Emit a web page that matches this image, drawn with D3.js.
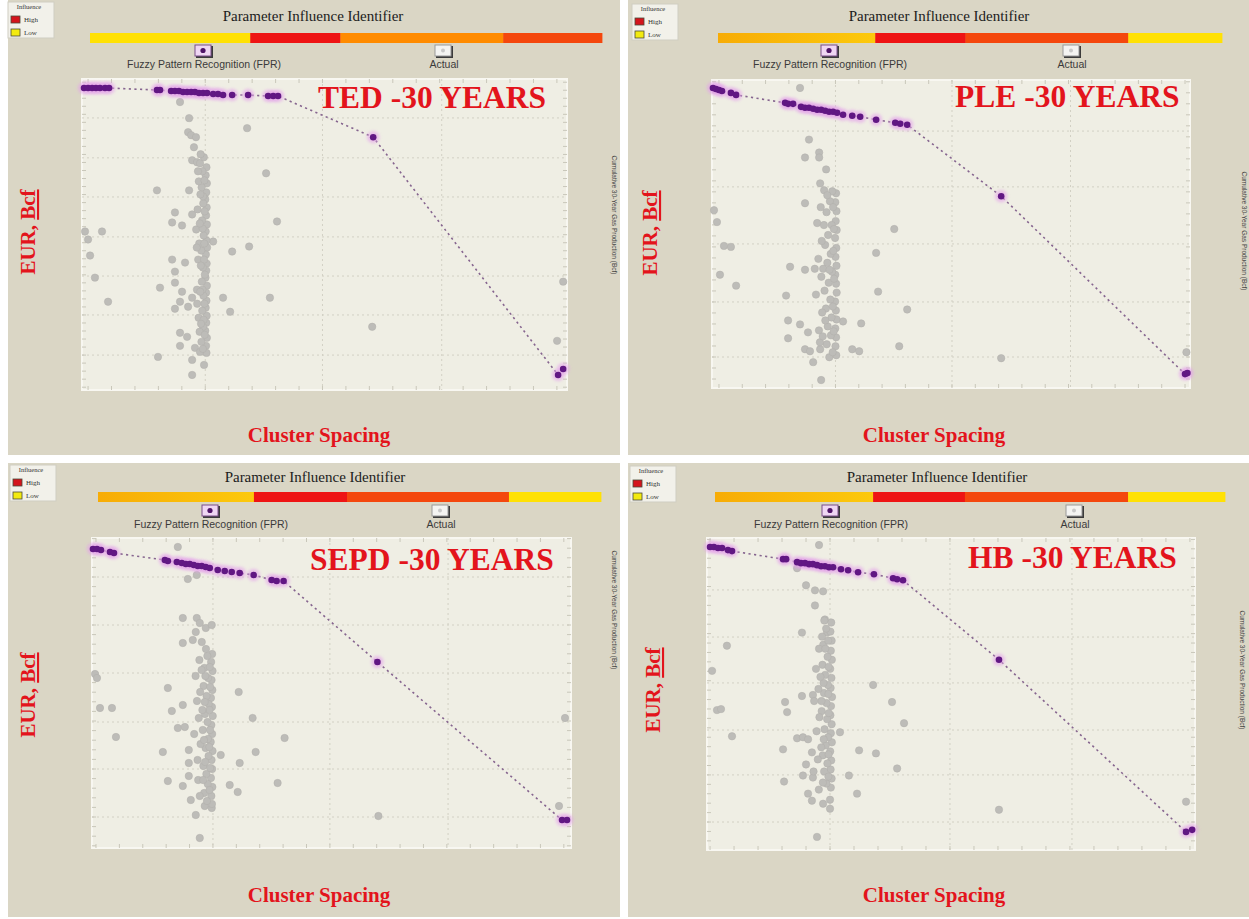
<!DOCTYPE html>
<html>
<head>
<meta charset="utf-8">
<script src="https://cdn.jsdelivr.net/npm/d3@7"></script>
<style>
  body { margin: 0; background: #ffffff; }
  svg { display: block; }
</style>
</head>
<body>
<svg id="chart" width="1249" height="919"></svg>
<script>
// ---------------------------------------------------------------
// Shared axes: cluster spacing (ft) vs. 30-year EUR (Bcf)
// ---------------------------------------------------------------
const xDomain = [0, 240];
const yDomain = [0, 15.5];

const panelTitles = ["TED -30 YEARS", "PLE -30 YEARS", "SEPD -30 YEARS", "HB -30 YEARS"];
const headerText = "Parameter Influence Identifier";
const fprLabel = "Fuzzy Pattern Recognition (FPR)";
const actualLabel = "Actual";
const xLabel = "Cluster Spacing";
const yLabelMain = "EUR, ";
const yLabelUnit = "Bcf";
const sideLabel = "Cumulative 30-Year Gas Production (Bcf)";
const legendTitle = "Influence";
const legendItems = [["High", 5], ["Low", 1]];

// influence bar: [level, share of bar in %]; level 1 = low ... 5 = high
const tedInfluence  = [[1, 31.3], [5, 17.6], [3, 31.8], [4, 19.3]];
const pleInfluence  = [[2, 31.2], [5, 17.9], [4, 32.3], [1, 18.6]];
const sepdInfluence = [[2, 31.0], [5, 18.5], [4, 32.2], [1, 18.3]];
const hbInfluence   = [[2, 31.0], [5, 18.0], [4, 32.0], [1, 19.0]];

// grid line positions (data units)
const tedGridX  = [61, 119, 178];
const tedGridY  = [1.74, 3.74, 5.68, 7.63, 9.62, 11.57, 13.56];
const pleGridX  = [62, 120.5, 180];
const pleGridY  = [1.56, 4.33, 7.25, 10.12, 12.93];
const sepdGridX = [60.6, 119.2, 178.4];
const sepdGridY = [1.55, 3.95, 6.3, 8.75, 11.15, 13.55];
const hbGridX   = [60.5, 119.5, 179.5];
const hbGridY   = [1.39, 3.73, 5.96, 8.3, 10.58, 12.92];

// ---------------- TED ----------------
const tedFPR = [
  [1.0,15.05],[3.0,15.05],[5.0,15.05],[6.9,15.05],[8.9,15.05],[11.4,15.05],[13.4,15.05],
  [37.1,14.95],[38.6,14.95],[44.1,14.9],[46.0,14.9],[48.0,14.9],[50.0,14.85],[52.0,14.85],
  [54.0,14.85],[55.9,14.85],[57.9,14.8],[59.9,14.8],[61.9,14.8],[64.9,14.75],[67.3,14.75],
  [69.8,14.7],[74.3,14.7],[82.2,14.7],[92.1,14.65],[94.6,14.65],[97.0,14.65],
  [144.1,12.6],[235.6,0.75],[238.1,1.05]
];
const tedActual = [
  [48.5,14.35],[53,13.55],[81.7,13.05],[52.5,12.85],[54,12.7],[56.4,12.6],[55.4,12.1],[54.5,11.45],
  [56.9,11.35],[58.4,11.3],[37.1,9.95],[53,9.95],[91.1,10.8],[60.4,9.7],[96.5,8.4],[46,8.85],
  [44.6,8.35],[54.5,8.75],[1.5,7.9],[9.9,7.9],[3,7.5],[4,6.7],[6.4,5.6],[12.9,4.4],
  [49.5,8.2],[64.9,7.4],[74.3,6.9],[82.7,7.15],[44.6,6.5],[51,6.35],[46,5.9],[46,5.35],
  [38.6,5.1],[49.5,4.9],[48.5,4.4],[46,4.05],[69.8,4.6],[93,4.6],[73.3,3.9],[54.5,4.6],
  [52.5,4.15],[48.5,2.85],[52,2.65],[48.5,2.2],[55.9,2.1],[37.6,1.65],[54.5,1.5],[60.4,1.25],
  [54.5,0.75],[143.6,3.15],[238.1,5.4],[235.1,2.45],
  [61.6,11.1],[61.2,10.7],[61.8,10.3],[61.5,9.85],[61.0,9.5],[61.7,9.1],[61.4,8.7],[61.8,8.25],
  [61.2,7.9],[61.6,7.45],[61.9,7.1],[61.3,6.75],[61.7,6.3],[61.5,5.95],[61.1,5.6],[61.8,5.2],
  [61.4,4.85],[61.6,4.45],[61.2,4.1],[61.7,3.7],[61.5,3.35],[61.0,2.95],[61.8,2.6],[61.4,2.2],
  [61.6,1.85],[59.6,10.9],[59.2,10.1],[60.0,9.3],[59.4,8.45],[60.2,7.7],[59.0,6.95],[59.8,6.1],
  [59.3,5.4],[60.1,4.7],[59.5,3.95],[59.9,3.15],[59.1,2.4],[60.3,11.6],[57.8,10.4],[57.2,9.0],
  [58.0,7.3],[57.5,6.5],[56.9,5.0],[57.7,3.6],[58.2,2.9],[56.5,8.0],[57.0,4.3],[58.4,1.9],
  [60.6,10.45],[59.9,9.65],[60.7,8.9],[59.7,8.05],[60.5,7.3],[60.4,6.5],[60.8,5.75],[59.6,5.0],
  [60.6,4.3],[60.2,3.5],[60.7,2.75],[59.8,2.05],[58.6,9.75],[58.3,8.3],[58.8,6.2],[58.5,4.9],
  [58.9,3.3],[57.4,10.9],[58.7,11.75],[56.8,7.1]
];

// ---------------- PLE ----------------
const pleFPR = [
  [0.5,15.1],[2,15.05],[3.5,15.0],[5,14.95],[9.5,14.85],[12.1,14.75],
  [36.7,14.35],[38.2,14.3],[40.7,14.3],[44.7,14.15],[46.7,14.1],[48.7,14.1],[50.8,14.05],
  [52.8,14.0],[54.8,14.0],[56.8,13.95],[58.8,13.9],[60.8,13.9],[62.8,13.85],[65.8,13.75],
  [70.4,13.7],[74.4,13.65],[82.4,13.5],[92,13.35],[94.5,13.3],[98,13.25],
  [145.2,9.65],[237.5,0.7],[238.7,0.75]
];
const pleActual = [
  [44.2,15.1],[48.7,12.5],[46.7,11.6],[53.8,11.85],[53.8,11.6],[57.3,11.0],[54.3,10.3],[56.3,9.95],
  [46.7,9.3],[1,8.95],[2.5,8.35],[6,7.15],[9.5,7.1],[4,5.7],[12.1,5.15],[39.2,6.1],[46.7,5.95],
  [37.2,4.65],[38.2,3.4],[44.2,3.2],[38.2,2.5],[48.2,2.8],[46.7,1.95],[49.2,1.85],[54.3,1.95],
  [91.5,8.0],[82.4,6.8],[83.4,4.85],[98,3.95],[65.8,3.35],[74.9,3.25],[70.4,1.95],[73.9,1.85],
  [94,2.1],[54.8,0.4],[50.8,1.3],[145.2,1.5],[238.2,1.8],
  [62.3,9.8],[61.9,9.35],[62.5,8.9],[62.1,8.4],[62.6,7.95],[61.8,7.55],[62.4,7.05],[62.0,6.6],
  [62.5,6.15],[61.9,5.7],[62.3,5.25],[62.6,4.8],[61.8,4.35],[62.2,3.9],[62.5,3.45],[61.9,3.0],
  [62.3,2.55],[62.0,2.1],[62.4,1.65],[59.2,9.4],[57.5,8.85],[60.1,8.2],[58.3,7.7],[56.8,7.2],
  [59.6,6.75],[57.9,6.3],[60.3,5.85],[58.6,5.3],[56.5,4.9],[59.4,4.45],[57.2,4.0],[60.0,3.55],
  [58.1,3.1],[59.7,2.65],[57.6,2.2],[58.9,1.55],[60.4,9.9],[54.6,9.1],[52.8,8.3],[55.1,7.4],
  [53.4,6.5],[54.9,5.6],[52.2,4.7],[55.3,3.8],[53.7,2.9],[54.2,2.3],[51.6,6.0],
  [60.8,9.1],[61.2,8.0],[60.9,6.9],[61.3,5.5],[60.7,4.1],[61.1,2.85],[60.6,1.8],[56.2,8.2],
  [55.8,6.0],[56.9,3.4],[55.6,2.6],[57.9,9.7],[59.0,5.95]
];

// ---------------- SEPD ----------------
const sepdFPR = [
  [0.5,14.95],[2.5,14.95],[4.5,14.9],[9,14.8],[11,14.75],
  [36.5,14.4],[38,14.35],[42.5,14.3],[45,14.25],[47,14.2],[49,14.2],[51,14.15],[53,14.1],
  [55,14.1],[57,14.05],[59,14.0],[63,13.9],[66.5,13.85],[70,13.8],[74,13.75],[81,13.65],
  [90,13.4],[92.5,13.35],[96,13.35],[143,9.3],[235.5,1.4],[238,1.4]
];
const sepdActual = [
  [43,15.05],[48,13.45],[52.5,13.65],[45.5,11.5],[52.5,11.5],[54,11.25],[57,11.0],[60,11.15],
  [52,10.8],[45.5,10.25],[50.5,10.4],[55,10.3],[38,8.0],[40,6.85],[45.5,7.15],[1.5,8.7],
  [2.5,8.5],[4,7.0],[10,7.0],[12,5.55],[43,6.0],[46.5,6.05],[35.5,4.8],[48.5,4.9],[64.5,4.65],
  [48.5,4.25],[48.5,3.6],[38,3.35],[45.5,3.1],[49.5,2.4],[52,1.65],[54,0.5],[56.5,2.1],[60,2.0],
  [73.5,7.8],[80.5,6.5],[82,4.8],[74,4.25],[69,3.15],[73,2.8],[93,3.25],[96.5,5.5],[143.5,1.6],
  [237,6.5],[234,2.1],
  [60.2,9.7],[59.7,9.3],[60.4,8.85],[59.9,8.4],[60.3,7.9],[59.6,7.5],[60.1,7.05],[60.5,6.6],
  [59.8,6.15],[60.2,5.7],[59.5,5.3],[60.4,4.85],[59.9,4.4],[60.2,3.95],[59.6,3.5],[60.3,3.05],
  [59.8,2.6],[60.1,2.2],[57.8,9.6],[56.3,9.0],[58.2,8.5],[55.9,8.1],[57.4,7.6],[58.5,7.2],
  [56.6,6.7],[57.9,6.3],[55.5,5.9],[58.1,5.45],[56.9,5.0],[58.4,4.6],[55.8,4.1],[57.3,3.7],
  [58.0,3.2],[56.2,2.75],[57.6,2.35],[53.8,9.4],[51.9,8.6],[54.2,7.8],[52.6,7.35],[53.5,6.5],
  [51.2,5.7],[54.4,5.2],[52.9,4.4],[53.2,3.4],[54.0,2.6],
  [59.0,9.05],[59.2,8.05],[58.9,6.9],[59.1,5.9],[58.8,5.05],[59.2,4.0],[58.9,2.9],[56.8,8.6],
  [56.5,7.3],[56.1,5.4],[56.7,4.3],[55.3,6.9],[55.7,3.4],[57.1,9.95],[54.9,8.9]
];

// ---------------- HB ----------------
const hbFPR = [
  [1.5,15.05],[3.4,15.05],[5.4,15.0],[7.4,15.0],[10.3,14.9],[12.3,14.85],
  [37.4,14.45],[38.9,14.45],[44.3,14.3],[46.2,14.25],[48.2,14.25],[50.2,14.2],[52.1,14.2],
  [54.1,14.15],[56.1,14.1],[58,14.1],[60,14.05],[62,14.05],[65.9,13.95],[69.4,13.9],
  [74.3,13.8],[82.1,13.7],[91.5,13.5],[93.5,13.45],[96.4,13.4],[143.6,9.45],
  [235.6,0.9],[238.6,1.0]
];
const hbActual = [
  [55.1,15.15],[44.3,14.0],[48.7,13.15],[53.1,12.9],[57.1,12.85],[53.1,12.15],[58,11.45],
  [46.7,10.8],[59,10.8],[9.8,10.15],[2.5,8.9],[4.9,6.95],[6.9,7.0],[12.3,5.65],[38.4,7.35],
  [39.4,6.85],[46.7,7.65],[52.1,7.7],[81.7,8.2],[91,7.35],[96.9,6.3],[65.4,5.85],[44.3,5.55],
  [47.2,5.6],[49.7,5.5],[37.4,5.0],[51.6,4.85],[74.8,4.95],[83.1,4.8],[48.7,4.25],[93.5,4.05],
  [69.8,3.7],[37.9,3.4],[47.2,3.7],[52.1,3.6],[49.7,2.8],[51.6,2.45],[57.1,2.3],[60.5,2.5],
  [60.5,2.05],[54.1,0.65],[73.8,2.8],[143.6,2.0],[235.6,2.4],
  [61.1,11.3],[60.7,10.85],[61.3,10.4],[60.9,9.9],[61.4,9.45],[60.6,9.0],[61.2,8.55],[60.8,8.05],
  [61.5,7.6],[61.0,7.15],[60.7,6.7],[61.3,6.25],[60.9,5.8],[61.4,5.35],[60.6,4.9],[61.1,4.45],
  [60.8,4.0],[61.3,3.55],[60.9,3.1],[58.6,11.0],[57.2,10.2],[59.3,9.6],[56.8,9.2],[58.1,8.7],
  [59.5,8.2],[57.5,7.8],[58.8,7.3],[56.4,6.9],[59.1,6.5],[57.8,6.0],[58.4,5.2],[56.9,4.7],
  [59.2,4.3],[57.6,3.9],[58.7,3.3],[56.6,10.6],[55.1,10.0],[53.6,9.0],[54.8,8.0],[52.7,7.4],
  [55.3,6.6],[53.9,5.9],[54.5,4.5],[52.4,3.9],[55.0,3.0],
  [59.6,10.4],[59.8,9.1],[59.7,7.75],[59.9,6.8],[59.6,5.6],[59.8,4.75],[59.7,3.65],[57.3,8.3],
  [56.3,7.4],[57.4,5.5],[56.2,5.1],[57.0,3.35],[55.8,8.6],[58.2,10.0],[57.7,11.4]
];

// ---------------------------------------------------------------
// Styling and page layout
// ---------------------------------------------------------------
const levelColors = { 1: "#ffe104", 2: "url(#lvl2)", 3: "#ff8b00", 4: "#f4470d", 5: "#ee1414" };
const legendColors = { 1: "#f2ea10", 5: "#d4141c" };
const RED = "#e3141c";

const panels = [
  { title: panelTitles[0], influence: tedInfluence, gridX: tedGridX, gridY: tedGridY, fpr: tedFPR, actual: tedActual,
    L: { panel: [8, 0, 612, 455], plot: [82, 567, 79, 390], bar: [90, 602, 33], header: [313, 21], legend: [8, 2],
         fprIcon: [204, 52], actIcon: [444, 52], eur: [30, 232], cluster: [319, 442], title: [318, 108], side: [612, 215] } },
  { title: panelTitles[1], influence: pleInfluence, gridX: pleGridX, gridY: pleGridY, fpr: pleFPR, actual: pleActual,
    L: { panel: [628, 0, 621, 455], plot: [712, 1190, 80, 388], bar: [718, 1222, 33], header: [939, 21], legend: [632, 4],
         fprIcon: [830, 52], actIcon: [1072, 52], eur: [652, 233], cluster: [934, 442], title: [955, 107], side: [1242, 231] } },
  { title: panelTitles[2], influence: sepdInfluence, gridX: sepdGridX, gridY: sepdGridY, fpr: sepdFPR, actual: sepdActual,
    L: { panel: [8, 463, 612, 454], plot: [92, 571, 538, 848], bar: [98, 601, 492], header: [315, 482], legend: [10, 465],
         fprIcon: [211, 512], actIcon: [441, 512], eur: [30, 695], cluster: [319, 902], title: [310, 570], side: [612, 610] } },
  { title: panelTitles[3], influence: hbInfluence, gridX: hbGridX, gridY: hbGridY, fpr: hbFPR, actual: hbActual,
    L: { panel: [628, 463, 621, 454], plot: [707, 1195, 538, 850], bar: [715, 1225, 492], header: [937, 482], legend: [630, 466],
         fprIcon: [831, 512], actIcon: [1075, 512], eur: [655, 690], cluster: [934, 902], title: [968, 568], side: [1240, 670] } }
];

const svg = d3.select("#chart");
svg.append("rect").attr("width", 1249).attr("height", 919).attr("fill", "#ffffff");

const defs = svg.append("defs");
defs.append("filter").attr("id", "halo").attr("x", "-50%").attr("y", "-50%").attr("width", "200%").attr("height", "200%")
  .append("feGaussianBlur").attr("stdDeviation", 1.6);
const g2 = defs.append("linearGradient").attr("id", "lvl2");
g2.append("stop").attr("offset", "0%").attr("stop-color", "#f7ac06");
g2.append("stop").attr("offset", "100%").attr("stop-color", "#fcc90d");

function minorTicks(grid, domain) {
  const step = (grid[1] - grid[0]) / 5;
  const out = [];
  let v = grid[0];
  while (v - step >= domain[0]) v -= step;
  for (; v <= domain[1] + 1e-9; v += step) out.push(v);
  return out;
}

function drawIcon(g, cx, cy, kind) {
  const ic = g.append("g");
  ic.append("rect").attr("x", cx - 8).attr("y", cy - 6).attr("width", 17).attr("height", 12)
    .attr("fill", "#3b3b3b");
  ic.append("rect").attr("x", cx - 9).attr("y", cy - 7).attr("width", 16).attr("height", 11)
    .attr("fill", kind === "fpr" ? "#efd6f3" : "#f4f4f2")
    .attr("stroke", kind === "fpr" ? "#7a4e8a" : "#9a9a9a").attr("stroke-width", 1);
  ic.append("circle").attr("cx", cx - 1).attr("cy", cy - 1.5).attr("r", kind === "fpr" ? 2.6 : 2)
    .attr("fill", kind === "fpr" ? "#4f1468" : "#c9c9c9");
}

function drawPanel(p) {
  const L = p.L;
  const g = svg.append("g");
  const [px, py, pw, ph] = L.panel;

  // panel background
  g.append("rect").attr("x", px).attr("y", py).attr("width", pw).attr("height", ph).attr("fill", "#dad6c5");

  // header title
  g.append("text").attr("x", L.header[0]).attr("y", L.header[1]).attr("text-anchor", "middle")
    .attr("font-family", "Liberation Serif, serif").attr("font-size", 15).attr("fill", "#1c1c1c")
    .text(headerText);

  // influence bar
  const total = d3.sum(p.influence, d => d[1]);
  const bx = d3.scaleLinear().domain([0, total]).range([L.bar[0], L.bar[1]]);
  let acc = 0;
  const segs = p.influence.map(d => { const s = { level: d[0], a: acc, b: acc + d[1] }; acc += d[1]; return s; });
  g.selectAll(null).data(segs).join("rect")
    .attr("x", d => bx(d.a)).attr("y", L.bar[2])
    .attr("width", d => bx(d.b) - bx(d.a) + 0.4).attr("height", 10)
    .attr("fill", d => levelColors[d.level]);

  // legend box
  const lg = g.append("g").attr("transform", `translate(${L.legend[0]},${L.legend[1]})`);
  lg.append("rect").attr("width", 46).attr("height", 36).attr("fill", "#f2f1ea").attr("stroke", "#cfcdc2");
  lg.append("text").attr("x", 21).attr("y", 7).attr("text-anchor", "middle")
    .attr("font-family", "Liberation Serif, serif").attr("font-size", 6.5).attr("fill", "#333").text(legendTitle);
  legendItems.forEach((d, i) => {
    lg.append("rect").attr("x", 3).attr("y", 14 + i * 13).attr("width", 9).attr("height", 7)
      .attr("fill", legendColors[d[1]]).attr("stroke", "#4a4a3a").attr("stroke-width", 0.8);
    lg.append("text").attr("x", 16).attr("y", 20 + i * 13)
      .attr("font-family", "Liberation Serif, serif").attr("font-size", 7).attr("fill", "#333").text(d[0]);
  });

  // series selector icons
  drawIcon(g, L.fprIcon[0], L.fprIcon[1], "fpr");
  drawIcon(g, L.actIcon[0], L.actIcon[1], "act");
  g.append("text").attr("x", L.fprIcon[0]).attr("y", L.fprIcon[1] + 16).attr("text-anchor", "middle")
    .attr("font-family", "Liberation Sans, Arial, sans-serif").attr("font-size", 10.5).attr("fill", "#3a3a3a").text(fprLabel);
  g.append("text").attr("x", L.actIcon[0]).attr("y", L.actIcon[1] + 16).attr("text-anchor", "middle")
    .attr("font-family", "Liberation Sans, Arial, sans-serif").attr("font-size", 10.5).attr("fill", "#3a3a3a").text(actualLabel);

  // plot area
  const [x0, x1, y0, y1] = L.plot;
  const x = d3.scaleLinear().domain(xDomain).range([x0, x1]);
  const y = d3.scaleLinear().domain(yDomain).range([y1, y0]);

  g.append("rect").attr("x", x0).attr("y", y0).attr("width", x1 - x0).attr("height", y1 - y0)
    .attr("fill", "#efeee4").attr("stroke", "#f8f7f1").attr("stroke-width", 2);

  // major grid
  g.selectAll(null).data(p.gridX).join("line")
    .attr("x1", d => x(d)).attr("x2", d => x(d)).attr("y1", y0).attr("y2", y1)
    .attr("stroke", "#d2d0c4").attr("stroke-width", 1).attr("stroke-dasharray", "2,3");
  g.selectAll(null).data(p.gridY).join("line")
    .attr("y1", d => y(d)).attr("y2", d => y(d)).attr("x1", x0).attr("x2", x1)
    .attr("stroke", "#d2d0c4").attr("stroke-width", 1).attr("stroke-dasharray", "2,3");

  // minor tick marks on all four edges
  const mx = minorTicks(p.gridX, xDomain), my = minorTicks(p.gridY, yDomain);
  const tickCol = "#c9c7ba";
  g.selectAll(null).data(mx).join("line")
    .attr("x1", d => x(d)).attr("x2", d => x(d)).attr("y1", y1).attr("y2", y1 - 4).attr("stroke", tickCol);
  g.selectAll(null).data(mx).join("line")
    .attr("x1", d => x(d)).attr("x2", d => x(d)).attr("y1", y0).attr("y2", y0 + 4).attr("stroke", tickCol);
  g.selectAll(null).data(my).join("line")
    .attr("y1", d => y(d)).attr("y2", d => y(d)).attr("x1", x0).attr("x2", x0 + 4).attr("stroke", tickCol);
  g.selectAll(null).data(my).join("line")
    .attr("y1", d => y(d)).attr("y2", d => y(d)).attr("x1", x1).attr("x2", x1 - 4).attr("stroke", tickCol);

  // actual wells
  g.selectAll(null).data(p.actual).join("circle")
    .attr("cx", d => x(d[0])).attr("cy", d => y(d[1])).attr("r", 3.7)
    .attr("fill", "#bdbcb8").attr("stroke", "#b0afab").attr("stroke-width", 0.5);

  // FPR trend
  const fprSorted = p.fpr.slice().sort((a, b) => a[0] - b[0]);
  g.append("path").datum(fprSorted)
    .attr("d", d3.line().x(d => x(d[0])).y(d => y(d[1])))
    .attr("fill", "none").attr("stroke", "#86658f").attr("stroke-width", 1.6).attr("stroke-dasharray", "2.2,3.4");
  g.selectAll(null).data(fprSorted).join("circle")
    .attr("cx", d => x(d[0])).attr("cy", d => y(d[1])).attr("r", 6.2)
    .attr("fill", "#e4a2ea").attr("opacity", 0.6).attr("filter", "url(#halo)");
  g.selectAll(null).data(fprSorted).join("circle")
    .attr("cx", d => x(d[0])).attr("cy", d => y(d[1])).attr("r", 3.3)
    .attr("fill", "#611783");

  // formation title
  g.append("text").attr("x", L.title[0]).attr("y", L.title[1])
    .attr("font-family", "Liberation Serif, 'Times New Roman', serif").attr("font-weight", "bold")
    .attr("font-size", 31.5).attr("fill", RED).text(p.title);

  // axis titles
  const ey = g.append("text").attr("transform", `translate(${L.eur[0]},${L.eur[1]}) rotate(-90)`)
    .attr("text-anchor", "middle").attr("dominant-baseline", "middle")
    .attr("font-family", "Liberation Serif, 'Times New Roman', serif").attr("font-weight", "bold")
    .attr("font-size", 21).attr("fill", RED);
  ey.append("tspan").text(yLabelMain);
  ey.append("tspan").attr("text-decoration", "underline").text(yLabelUnit);

  g.append("text").attr("x", L.cluster[0]).attr("y", L.cluster[1]).attr("text-anchor", "middle")
    .attr("font-family", "Liberation Serif, 'Times New Roman', serif").attr("font-weight", "bold")
    .attr("font-size", 21).attr("fill", RED).text(xLabel);

  // small rotated caption at the right edge
  g.append("text").attr("transform", `translate(${L.side[0]},${L.side[1]}) rotate(90)`)
    .attr("text-anchor", "middle").attr("font-family", "Liberation Sans, Arial, sans-serif")
    .attr("font-size", 6.5).attr("fill", "#444").text(sideLabel);
}

panels.forEach(drawPanel);
</script>
</body>
</html>
